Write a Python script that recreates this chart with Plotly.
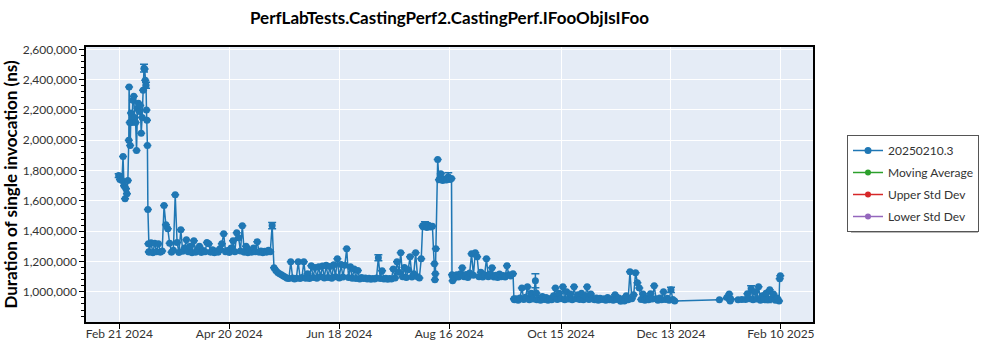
import plotly.graph_objects as go

# ---------------- data ----------------
series_name = "20250210.3"
title_text = "PerfLabTests.CastingPerf2.CastingPerf.IFooObjIsIFoo"
y_title = "Duration of single invocation (ns)"

dates_feb_mar = [
    "2024-02-20 16:00", "2024-02-21 08:00", "2024-02-22 10:00", "2024-02-23 00:00", "2024-02-23 12:00",
    "2024-02-24 02:00", "2024-02-24 14:00", "2024-02-25 02:00", "2024-02-25 14:00", "2024-02-26 02:00",
    "2024-02-26 06:00", "2024-02-26 14:00", "2024-02-26 20:00", "2024-02-27 06:00", "2024-02-27 18:00",
    "2024-02-28 06:00", "2024-02-28 18:00", "2024-02-29 06:00", "2024-02-29 18:00", "2024-03-01 06:00",
    "2024-03-01 18:00", "2024-03-02 06:00", "2024-03-02 18:00", "2024-03-03 06:00", "2024-03-03 18:00",
    "2024-03-04 06:00", "2024-03-04 18:00", "2024-03-05 06:00", "2024-03-05 14:00", "2024-03-05 22:00",
    "2024-03-06 08:00", "2024-03-06 14:00", "2024-03-06 20:00", "2024-03-07 02:00", "2024-03-07 08:00",
    "2024-03-07 14:00", "2024-03-07 20:00",
]
values_feb_mar = [
    1767000, 1742000, 1734000, 1893000, 1700000,
    1615000, 1680000, 1648000, 1734000, 2000000,
    2352000, 2118000, 1966000, 2180000, 2117000,
    2264000, 2290000, 2150000, 2117000, 1933000,
    2211000, 2244000, 2190000, 2230000, 2046000,
    2150000, 2330000, 2476000, 2470000, 2396000,
    2363000, 2200000, 2132000, 1966000, 1543000,
    1318000, 1265000,
]

dates_mar_may = [
    "2024-03-08", "2024-03-09", "2024-03-10", "2024-03-11", "2024-03-12", "2024-03-13", "2024-03-14",
    "2024-03-15", "2024-03-16", "2024-03-17", "2024-03-18", "2024-03-19", "2024-03-20", "2024-03-21",
    "2024-03-22", "2024-03-23", "2024-03-24", "2024-03-25", "2024-03-26", "2024-03-27", "2024-03-28",
    "2024-03-29", "2024-03-30", "2024-03-31", "2024-04-01", "2024-04-02", "2024-04-03", "2024-04-04",
    "2024-04-05", "2024-04-06", "2024-04-07", "2024-04-08", "2024-04-09", "2024-04-10", "2024-04-11",
    "2024-04-12", "2024-04-13", "2024-04-14", "2024-04-15", "2024-04-16", "2024-04-17", "2024-04-18",
    "2024-04-19", "2024-04-20", "2024-04-21", "2024-04-22", "2024-04-23", "2024-04-24", "2024-04-25",
    "2024-04-26", "2024-04-27", "2024-04-28", "2024-04-29", "2024-04-30", "2024-05-01", "2024-05-02",
    "2024-05-03", "2024-05-04", "2024-05-05", "2024-05-06", "2024-05-07", "2024-05-08", "2024-05-09",
    "2024-05-10", "2024-05-11", "2024-05-12", "2024-05-13",
]
values_mar_may = [
    1262000, 1324000, 1258000, 1320000, 1265000, 1318000, 1262000,
    1270000, 1569000, 1443000, 1417000, 1320000, 1262000, 1275000,
    1641000, 1325000, 1260000, 1410000, 1268000, 1290000, 1344000,
    1265000, 1300000, 1258000, 1337000, 1262000, 1280000, 1300000,
    1260000, 1272000, 1265000, 1325000, 1318000, 1262000, 1278000,
    1258000, 1270000, 1262000, 1285000, 1318000, 1383000, 1265000,
    1272000, 1260000, 1290000, 1337000, 1265000, 1390000, 1357000,
    1270000, 1436000, 1262000, 1300000, 1258000, 1275000, 1262000,
    1290000, 1265000, 1331000, 1262000, 1270000, 1258000, 1268000,
    1262000, 1275000, 1265000, 1437000,
]

dates_may_aug = [
    "2024-05-14", "2024-05-15", "2024-05-16", "2024-05-17", "2024-05-18", "2024-05-19", "2024-05-20",
    "2024-05-21", "2024-05-22", "2024-05-23", "2024-05-24", "2024-05-25", "2024-05-26", "2024-05-27",
    "2024-05-28", "2024-05-29", "2024-05-30", "2024-05-31", "2024-06-01", "2024-06-02", "2024-06-03",
    "2024-06-04", "2024-06-05", "2024-06-06", "2024-06-07", "2024-06-08", "2024-06-09", "2024-06-10",
    "2024-06-11", "2024-06-12", "2024-06-13", "2024-06-14", "2024-06-15", "2024-06-16", "2024-06-17",
    "2024-06-18", "2024-06-19", "2024-06-20", "2024-06-21", "2024-06-22", "2024-06-23", "2024-06-24",
    "2024-06-25", "2024-06-26", "2024-06-27", "2024-06-28", "2024-06-29", "2024-06-30", "2024-07-01",
    "2024-07-02", "2024-07-03", "2024-07-04", "2024-07-05", "2024-07-06", "2024-07-07", "2024-07-08",
    "2024-07-09", "2024-07-10", "2024-07-11", "2024-07-12", "2024-07-13", "2024-07-14", "2024-07-15",
    "2024-07-16", "2024-07-17", "2024-07-18", "2024-07-19", "2024-07-20", "2024-07-21", "2024-07-22",
    "2024-07-23", "2024-07-24", "2024-07-25", "2024-07-26", "2024-07-27", "2024-07-28", "2024-07-29",
    "2024-07-30", "2024-07-31", "2024-08-01 00:00",
]
values_may_aug = [
    1159000, 1140000, 1128000, 1120000, 1112000, 1105000, 1098000,
    1090000, 1088000, 1198000, 1092000, 1085000, 1090000, 1198000,
    1088000, 1095000, 1198000, 1090000, 1120000, 1088000, 1172000,
    1095000, 1160000, 1090000, 1165000, 1100000, 1170000, 1092000,
    1175000, 1095000, 1168000, 1090000, 1178000, 1100000, 1218000,
    1092000, 1180000, 1098000, 1175000, 1284000, 1095000, 1165000,
    1090000, 1150000, 1088000, 1140000, 1085000, 1095000, 1088000,
    1092000, 1085000, 1090000, 1083000, 1088000, 1085000, 1092000,
    1225000, 1088000, 1139000, 1085000, 1090000, 1083000, 1088000,
    1085000, 1150000, 1092000, 1198000, 1130000, 1258000, 1100000,
    1160000, 1095000, 1145000, 1231000, 1098000, 1120000, 1258000,
    1100000, 1092000, 1218000,
]

dates_aug = [
    "2024-08-01 18:00", "2024-08-02", "2024-08-03", "2024-08-04", "2024-08-05", "2024-08-06", "2024-08-07",
    "2024-08-08 02:00", "2024-08-08 08:00", "2024-08-08 14:00", "2024-08-08 20:00", "2024-08-09 20:00",
    "2024-08-10 12:00", "2024-08-11 12:00", "2024-08-12 12:00", "2024-08-13 12:00", "2024-08-14 12:00",
    "2024-08-15 12:00", "2024-08-16 12:00", "2024-08-17 06:00", "2024-08-17 12:00", "2024-08-17 20:00",
]
values_aug = [
    1436000, 1430000, 1445000, 1425000, 1440000, 1428000, 1432000,
    1185000, 1079000, 1119000, 1284000, 1873000,
    1740000, 1780000, 1735000, 1745000, 1738000,
    1760000, 1742000, 1748000, 1112000, 1073000,
]

dates_aug_sep = [
    "2024-08-18", "2024-08-19", "2024-08-20", "2024-08-21", "2024-08-22", "2024-08-23", "2024-08-24",
    "2024-08-25", "2024-08-26", "2024-08-27", "2024-08-28", "2024-08-29", "2024-08-30", "2024-08-31",
    "2024-09-01", "2024-09-02", "2024-09-03", "2024-09-04", "2024-09-05", "2024-09-06", "2024-09-07",
    "2024-09-08", "2024-09-09", "2024-09-10", "2024-09-11", "2024-09-12", "2024-09-13", "2024-09-14",
    "2024-09-15", "2024-09-16", "2024-09-17", "2024-09-18", "2024-09-19 06:00", "2024-09-19 18:00",
]
values_aug_sep = [
    1100000, 1095000, 1112000, 1098000, 1120000, 1159000, 1100000,
    1115000, 1095000, 1125000, 1251000, 1110000, 1258000, 1231000,
    1100000, 1130000, 1098000, 1112000, 1218000, 1100000, 1120000,
    1159000, 1098000, 1110000, 1095000, 1118000, 1100000, 1108000,
    1098000, 1172000, 1112000, 1105000, 1119000, 954000,
]

dates_sep_dec = [
    "2024-09-20", "2024-09-21", "2024-09-22", "2024-09-23", "2024-09-24", "2024-09-25", "2024-09-26",
    "2024-09-27", "2024-09-28", "2024-09-29", "2024-09-30", "2024-10-01 06:00", "2024-10-01 18:00",
    "2024-10-02", "2024-10-03", "2024-10-04", "2024-10-05", "2024-10-06", "2024-10-07", "2024-10-08",
    "2024-10-09", "2024-10-10", "2024-10-11", "2024-10-12", "2024-10-13", "2024-10-14", "2024-10-15",
    "2024-10-16", "2024-10-17", "2024-10-18", "2024-10-19", "2024-10-20", "2024-10-21", "2024-10-22",
    "2024-10-23", "2024-10-24", "2024-10-25", "2024-10-26", "2024-10-27", "2024-10-28", "2024-10-29",
    "2024-10-30", "2024-10-31", "2024-11-01", "2024-11-02", "2024-11-03", "2024-11-04", "2024-11-05",
    "2024-11-06", "2024-11-07", "2024-11-08", "2024-11-09", "2024-11-10", "2024-11-11", "2024-11-12",
    "2024-11-13", "2024-11-14", "2024-11-15", "2024-11-16", "2024-11-17", "2024-11-18", "2024-11-19",
    "2024-11-20", "2024-11-21", "2024-11-22", "2024-11-23", "2024-11-24", "2024-11-25", "2024-11-26",
    "2024-11-27", "2024-11-28", "2024-11-29", "2024-11-30", "2024-12-01", "2024-12-02", "2024-12-03",
    "2024-12-04", "2024-12-05", "2024-12-06", "2024-12-07", "2024-12-08", "2024-12-09", "2024-12-10",
    "2024-12-11", "2024-12-12", "2024-12-13", "2024-12-14", "2024-12-15",
]
values_sep_dec = [
    948000, 955000, 945000, 960000, 1026000, 950000, 965000,
    1033000, 948000, 990000, 952000, 1073000, 993000,
    948000, 958000, 945000, 970000, 950000, 962000, 945000,
    955000, 948000, 975000, 1026000, 950000, 990000, 955000,
    1033000, 948000, 1000000, 952000, 985000, 948000, 1033000,
    955000, 980000, 950000, 990000, 948000, 975000, 1033000,
    950000, 985000, 955000, 948000, 960000, 945000, 958000,
    950000, 955000, 945000, 962000, 948000, 955000, 945000,
    980000, 950000, 960000, 938000, 952000, 940000, 975000,
    948000, 1132000, 955000, 980000, 1126000, 1060000, 1026000,
    950000, 985000, 945000, 958000, 948000, 987000, 952000,
    1040000, 955000, 945000, 960000, 948000, 1000000, 950000,
    958000, 945000, 1013000, 950000, 940000,
]

dates_jan_feb = [
    "2025-01-08", "2025-01-12", "2025-01-13 06:00", "2025-01-13 18:00", "2025-01-14", "2025-01-18",
    "2025-01-20", "2025-01-22", "2025-01-23", "2025-01-24", "2025-01-25", "2025-01-26", "2025-01-27",
    "2025-01-28", "2025-01-29", "2025-01-30", "2025-01-31", "2025-02-01", "2025-02-02", "2025-02-03",
    "2025-02-04", "2025-02-05", "2025-02-06", "2025-02-07", "2025-02-08", "2025-02-09 00:00",
    "2025-02-09 08:00", "2025-02-09 16:00",
]
values_jan_feb = [
    947000, 962000, 985000, 940000, 955000, 948000,
    950000, 950000, 987000, 955000, 1020000, 948000, 1000000,
    952000, 1033000, 945000, 975000, 950000, 990000, 948000,
    1013000, 955000, 985000, 945000, 960000, 940000,
    1086000, 1106000,
]

# visible error-bar caps (date -> +/- error in ns)
error_dates = ["2024-02-20 16:00", "2024-03-05 06:00", "2024-03-06 08:00", "2024-05-13", "2024-07-09",
               "2024-08-03", "2024-08-15 12:00", "2024-10-01 06:00", "2024-12-13", "2025-01-25", "2025-02-03"]
error_values = [12000, 25000, 20000, 20000, 20000, 18000, 25000, 46000, 18000, 20000, 18000]

x_tick_dates = ["2024-02-21", "2024-04-20", "2024-06-18", "2024-08-16", "2024-10-15", "2024-12-13", "2025-02-10"]
x_tick_labels = ["Feb 21 2024", "Apr 20 2024", "Jun 18 2024", "Aug 16 2024", "Oct 15 2024", "Dec 13 2024", "Feb 10 2025"]

legend_names = ["Moving Average", "Upper Std Dev", "Lower Std Dev"]
legend_colors = ["#2ca02c", "#d62728", "#9467bd"]

# ---------------- figure ----------------
dates = (dates_feb_mar + dates_mar_may + dates_may_aug + dates_aug + dates_aug_sep
         + dates_sep_dec + dates_jan_feb)
values = (values_feb_mar + values_mar_may + values_may_aug + values_aug + values_aug_sep
          + values_sep_dec + values_jan_feb)
err_lookup = dict(zip(error_dates, error_values))
errors = [err_lookup.get(d) for d in dates]

FONT = "Segoe UI, Lato, sans-serif"
BLUE = "#1f77b4"

fig = go.Figure()
fig.add_trace(go.Scatter(
    x=dates, y=values, name=series_name, mode="lines+markers",
    line=dict(color=BLUE, width=1.5),
    marker=dict(color=BLUE, size=7),
    error_y=dict(type="data", array=errors, visible=True, color=BLUE, thickness=1.5, width=4),
    legendgroup="g0",
))
for i, (nm, col) in enumerate(zip(legend_names, legend_colors)):
    fig.add_trace(go.Scatter(
        x=[None], y=[None], name=nm, mode="lines+markers",
        line=dict(color=col, width=1.5), marker=dict(color=col, size=6),
        showlegend=True, legendgroup=f"g{i+1}",
    ))

L, R, T, B = 86, 187, 47, 28
PW, PH = 1000 - L - R, 350 - T - B
fig.update_layout(
    width=1000, height=350,
    margin=dict(l=L, r=R, t=T, b=B),
    paper_bgcolor="white",
    plot_bgcolor="#E5ECF6",
    font=dict(family=FONT, size=12, color="#333333"),
    title=dict(text=f"<b>{title_text}</b>", x=(L + PW / 2) / 1000, xanchor="center",
               y=1 - 18 / 350, yanchor="middle",
               font=dict(family=FONT, size=17, color="black")),
    showlegend=True,
    legend=dict(
        x=(847 - L) / PW, xanchor="left", y=(322 - 135) / PH, yanchor="top",
        bgcolor="white", bordercolor="#555555", borderwidth=1,
        font=dict(family=FONT, size=12, color="#333333"),
        tracegroupgap=3, traceorder="grouped",
    ),
    shapes=[dict(
        type="rect", xref="paper", yref="paper",
        x0=(851 - L) / PW, x1=(978 - L) / PW, y0=(322 - 233) / PH, y1=(322 - 139) / PH,
        fillcolor="rgba(0,0,0,0.28)", line=dict(width=0), layer="below",
    )],
)
fig.update_xaxes(
    type="date", automargin=False,
    range=["2024-02-03 03:00", "2025-02-27 05:00"],
    tickvals=x_tick_dates, ticktext=x_tick_labels,
    ticks="outside", ticklen=5, tickcolor="black",
    ticklabelstandoff=-5,
    showgrid=True, gridcolor="white", gridwidth=1,
    showline=True, linecolor="black", linewidth=1.5, mirror=True,
    zeroline=False,
)
fig.update_yaxes(
    automargin=False,
    range=[801000, 2615500],
    tick0=0, dtick=200000, tickformat=",d",
    ticks="outside", ticklen=5, tickcolor="black",
    minor=dict(dtick=40000, ticks="outside", ticklen=3, tickcolor="black", showgrid=False),
    showgrid=True, gridcolor="white", gridwidth=1,
    showline=True, linecolor="black", linewidth=1.5, mirror=True,
    zeroline=False,
    title=dict(text=f"<b>{y_title}</b>", font=dict(family=FONT, size=17, color="black"), standoff=8),
)

fig.write_html("out.html")
